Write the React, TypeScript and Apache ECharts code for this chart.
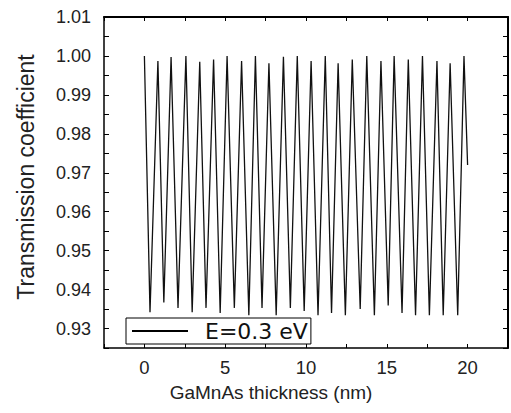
import React, { useEffect, useRef, useState } from "react";
import * as echarts from "echarts";

// Peaks (x in nm, transmission)
const peakX = [0.0, 0.836, 1.651, 2.569, 3.425, 4.281, 5.117, 6.014, 6.87, 7.706, 8.603, 9.46, 10.316, 11.193, 11.988, 12.864, 13.761, 14.638, 15.454, 16.33, 17.207, 18.104, 18.919, 19.776];
const peakY = [1.0, 0.9987, 0.9997, 1.0, 0.9985, 0.9991, 1.0, 0.9987, 1.0, 0.9981, 0.9998, 1.0, 0.9987, 1.0, 0.9981, 0.9991, 1.0, 0.9987, 1.0, 0.9991, 1.0, 0.9987, 0.9981, 1.0];
// Troughs
const troughX = [0.347, 1.203, 2.08, 2.956, 3.813, 4.689, 5.566, 6.463, 7.278, 8.155, 9.032, 9.888, 10.744, 11.58, 12.436, 13.354, 14.231, 15.087, 15.943, 16.779, 17.635, 18.491, 19.388];
const troughY = [0.9342, 0.9367, 0.9353, 0.9342, 0.9353, 0.934, 0.9353, 0.9334, 0.9353, 0.9334, 0.9353, 0.9345, 0.9334, 0.934, 0.9334, 0.935, 0.9334, 0.9359, 0.934, 0.9334, 0.9334, 0.9334, 0.9334];
const lastX = 20.0;
const lastY = 0.972;

const seriesName = "E=0.3 eV";
const xTitle = "GaMnAs thickness (nm)";
const yTitle = "Transmission coefficient";

const xLabelStep = 5;
const xTickStep = 2.5;
const yLabelStep = 0.01;
const yTickStep = 0.005;

const X_MIN = -2.5, X_MAX = 22.5, Y_MIN = 0.925, Y_MAX = 1.01;

export default function App() {
  const ref = useRef<HTMLDivElement>(null);
  const [err, setErr] = useState("");
  useEffect(() => {
    document.body.style.margin = "0";
    if (!ref.current) return;
    const chart = echarts.init(ref.current, null, { renderer: "svg" });

    const data: number[][] = [];
    for (let i = 0; i < peakX.length; i++) {
      data.push([peakX[i], peakY[i]]);
      if (i < troughX.length) data.push([troughX[i], troughY[i]]);
    }
    data.push([lastX, lastY]);

    const xFmt = (v: number) => {
      const r = v / xLabelStep;
      return Math.abs(r - Math.round(r)) < 1e-6 && v >= 0 && v <= 20 ? String(Math.round(v)) : "";
    };
    const yFmt = (v: number) => {
      const r = v / yLabelStep;
      return Math.abs(r - Math.round(r)) < 1e-6 ? v.toFixed(2) : "";
    };

    try {
      chart.setOption({
        animation: false,
        grid: { left: 104, top: 17, right: -2, bottom: 65 },
        xAxis: [
          {
            type: "value", min: X_MIN, max: X_MAX, interval: xTickStep, position: "bottom",
            splitLine: { show: false },
            axisLine: { show: true, onZero: false, lineStyle: { color: "#000", width: 1.5 } },
            axisTick: { show: true, inside: true, length: 4 },
            axisLabel: { margin: 10, fontSize: 18.5, fontFamily: "Liberation Sans", color: "#222", formatter: xFmt },
          },
          {
            type: "value", min: X_MIN, max: X_MAX, interval: xTickStep, position: "top",
            splitLine: { show: false },
            axisLine: { show: true, onZero: false, lineStyle: { color: "#000", width: 2 } },
            axisTick: { show: true, inside: true, length: 4 },
            axisLabel: { show: false },
          },
        ],
        yAxis: [
          {
            type: "value", min: Y_MIN, max: Y_MAX, interval: yTickStep, position: "left",
            splitLine: { show: false },
            axisLine: { show: true, onZero: false, lineStyle: { color: "#000", width: 1.5 } },
            axisTick: { show: true, inside: true, length: 5 },
            axisLabel: { margin: 13, fontSize: 18, fontFamily: "Liberation Sans", color: "#222", formatter: yFmt },
          },
          {
            type: "value", min: Y_MIN, max: Y_MAX, interval: yTickStep, position: "right",
            splitLine: { show: false },
            axisLine: { show: true, onZero: false, lineStyle: { color: "#000", width: 2 } },
            axisTick: { show: true, inside: true, length: 5 },
            axisLabel: { show: false },
          },
        ],
        legend: {
          left: 126,
          top: 318,
          borderColor: "#000",
          borderWidth: 1,
          padding: [2, 3, 2, 6],
          itemWidth: 56,
          itemHeight: 2,
          icon: "rect",
          data: [seriesName],
          textStyle: { fontSize: 22, fontFamily: "DejaVu Sans", color: "#111", padding: [0, 0, 0, 12] },
        },
        graphic: [
          {
            type: "text",
            x: 271,
            y: 383,
            style: { text: xTitle, fontSize: 19, fontFamily: "Liberation Sans", fill: "#222", align: "center" },
          },
          {
            type: "text",
            x: 14,
            y: 177,
            rotation: Math.PI / 2,
            style: { text: yTitle, fontSize: 23, fontFamily: "Liberation Sans", fill: "#222", align: "center" },
          },
        ],
        series: [
          {
            name: seriesName,
            type: "line",
            data,
            showSymbol: false,
            symbol: "none",
            color: "#000",
            lineStyle: { color: "#111", width: 1.3 },
          },
        ],
      });
    } catch (e: any) {
      setErr(String(e && e.stack ? e.stack : e).slice(0, 300));
    }
    return () => chart.dispose();
  }, []);
  return (
    <div style={{ position: "relative", width: 511, height: 413 }}>
      <div ref={ref} style={{ width: 511, height: 413 }} />
      {err ? (
        <pre style={{ position: "absolute", left: 0, top: 0, fontSize: 9, margin: 0, whiteSpace: "pre-wrap", color: "red" }}>{err}</pre>
      ) : null}
    </div>
  );
}
